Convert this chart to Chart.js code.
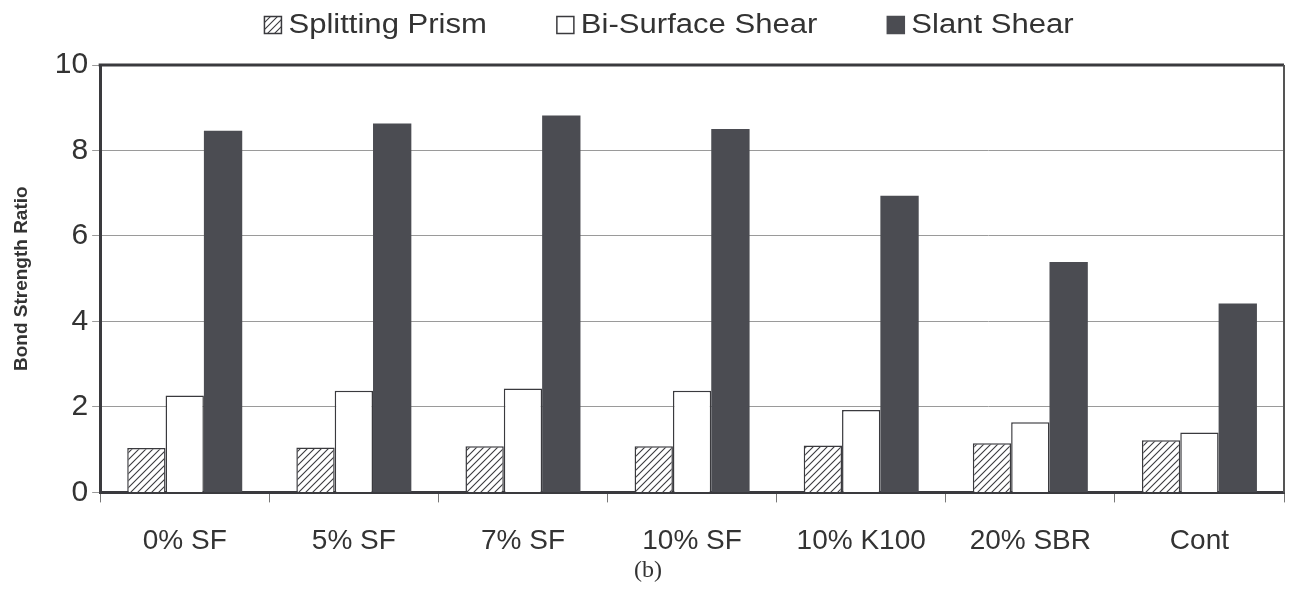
<!DOCTYPE html>
<html>
<head>
<meta charset="utf-8">
<script src="https://cdn.jsdelivr.net/npm/chart.js@4"></script>
<style>
  html, body { margin: 0; padding: 0; background: #fff; }
  #wrap { width: 1295px; height: 596px; }
</style>
</head>
<body>
<div id="wrap"><canvas id="bond"></canvas></div>
<script>
// data
var mixes = ['0% SF', '5% SF', '7% SF', '10% SF', '10% K100', '20% SBR', 'Cont'];
var splittingPrism = [1.04, 1.05, 1.08, 1.08, 1.10, 1.15, 1.22];
var biSurfaceShear = [2.27, 2.38, 2.43, 2.38, 1.93, 1.64, 1.40];
var slantShear = [8.46, 8.63, 8.82, 8.50, 6.94, 5.39, 4.42];
var yTicks = [0, 2, 4, 6, 8, 10];
var panelLabel = '(b)';

var ink = '#3a3a3e';
var darkFill = '#4b4c52';
var font = "'Liberation Sans', Arial, sans-serif";

// diagonal hatch for the splitting prism bars
function makeHatch() {
  var s = 7;
  var c = document.createElement('canvas');
  c.width = s;
  c.height = s;
  var g = c.getContext('2d');
  g.fillStyle = '#fff';
  g.fillRect(0, 0, s, s);
  g.strokeStyle = ink;
  g.lineWidth = 1.1;
  g.beginPath();
  g.moveTo(0, s); g.lineTo(s, 0);
  g.moveTo(-1, 1); g.lineTo(1, -1);
  g.moveTo(s - 1, s + 1); g.lineTo(s + 1, s - 1);
  g.stroke();
  return g.createPattern(c, 'repeat');
}

// frame round the plot area (top and right sides) + the panel label
var frame = {
  id: 'frame',
  afterDraw: function (chart) {
    var a = chart.chartArea;
    var ctx = chart.ctx;
    ctx.save();
    ctx.strokeStyle = ink;
    ctx.lineWidth = 3;
    ctx.beginPath();
    ctx.moveTo(a.left - 1.5, a.top);
    ctx.lineTo(a.right, a.top);
    ctx.stroke();
    ctx.lineWidth = 2;
    ctx.strokeStyle = '#555';
    ctx.beginPath();
    ctx.moveTo(a.right, a.top);
    ctx.lineTo(a.right, a.bottom);
    ctx.stroke();

    ctx.fillStyle = '#333';
    ctx.font = "24px 'Liberation Serif', 'DejaVu Serif', serif";
    ctx.textAlign = 'center';
    ctx.textBaseline = 'middle';
    ctx.fillText(panelLabel, 648, 571);
    ctx.restore();
  }
};

// legend drawn along the top, spaced like the original
var topLegend = {
  id: 'topLegend',
  afterDraw: function (chart) {
    var ctx = chart.ctx;
    var stretch = 1.15;
    var box = 17, gapText = 7, gapItem = 70;
    ctx.save();
    ctx.font = '27px ' + font;
    var items = chart.data.datasets.map(function (ds) {
      return { ds: ds, w: ctx.measureText(ds.label).width * stretch };
    });
    var total = 0;
    items.forEach(function (it, i) {
      total += box + gapText + it.w + (i < items.length - 1 ? gapItem : 0);
    });
    var x = 669 - total / 2;
    var cy = 25;
    items.forEach(function (it) {
      ctx.fillStyle = it.ds.backgroundColor;
      ctx.fillRect(x, cy - box / 2, box, box);
      ctx.lineWidth = 1.5;
      ctx.strokeStyle = it.ds.borderWidth ? ink : darkFill;
      ctx.strokeRect(x, cy - box / 2, box, box);
      x += box + gapText;
      ctx.save();
      ctx.translate(x, cy);
      ctx.scale(stretch, 1);
      ctx.fillStyle = '#333';
      ctx.textBaseline = 'middle';
      ctx.textAlign = 'left';
      ctx.fillText(it.ds.label, 0, 1);
      ctx.restore();
      x += it.w + gapItem;
    });
    ctx.restore();
  }
};

new Chart(document.getElementById('bond'), {
  type: 'bar',
  data: {
    labels: mixes,
    datasets: [
      { label: 'Splitting Prism', data: splittingPrism, backgroundColor: makeHatch(), borderColor: ink, borderWidth: 1.5 },
      { label: 'Bi-Surface Shear', data: biSurfaceShear, backgroundColor: '#fff', borderColor: ink, borderWidth: 1.5 },
      { label: 'Slant Shear', data: slantShear, backgroundColor: darkFill, borderColor: darkFill, borderWidth: 0 }
    ]
  },
  options: {
    responsive: true,
    maintainAspectRatio: false,
    animation: false,
    categoryPercentage: 0.68,
    barPercentage: 1.0,
    layout: { padding: { left: 6, right: 11, top: 65, bottom: 16 } },
    plugins: {
      legend: { display: false },
      title: { display: false },
      tooltip: { enabled: false }
    },
    scales: {
      x: {
        offset: true,
        grid: {
          offset: true,
          drawOnChartArea: false,
          drawTicks: true,
          tickLength: 10,
          color: '#777'
        },
        border: { display: true, color: ink, width: 3 },
        ticks: {
          color: '#333',
          font: { family: font, size: 28 },
          padding: 22
        }
      },
      y: {
        min: 0,
        max: 10,
        afterBuildTicks: function (axis) {
          axis.ticks = yTicks.map(function (v) { return { value: v }; });
        },
        grid: {
          color: '#9a9a9a',
          lineWidth: 1,
          tickLength: 8,
          drawTicks: true
        },
        border: { display: true, color: ink, width: 3 },
        ticks: {
          color: '#333',
          font: { family: font, size: 30 },
          padding: 4
        },
        title: {
          display: true,
          text: 'Bond Strength Ratio',
          color: '#333',
          font: { family: font, size: 19, weight: 'bold' },
          padding: { top: 4, bottom: 18 }
        }
      }
    }
  },
  plugins: [frame, topLegend]
});
</script>
</body>
</html>
